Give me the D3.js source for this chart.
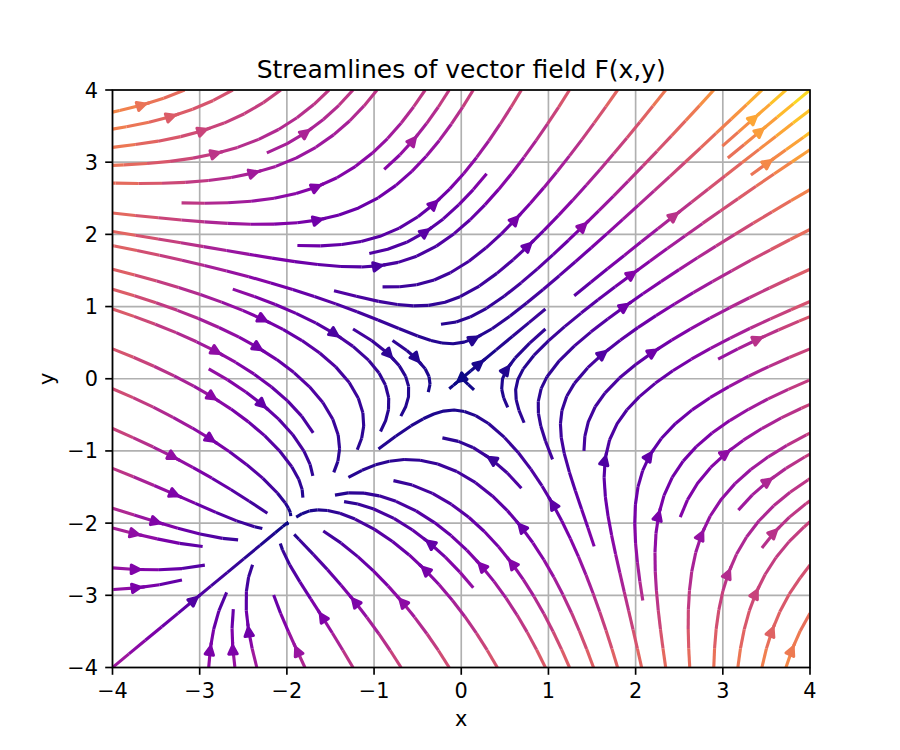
<!DOCTYPE html>
<html>
<head>
<meta charset="utf-8">
<script src="https://cdn.jsdelivr.net/npm/d3@7"></script>
<style>
  body { margin: 0; background: #fff; }
  svg { display: block; }
  text { font-family: "DejaVu Sans", sans-serif; fill: #000; }
</style>
</head>
<body>
<div id="chart"></div>
<script>
// chart values
const titleText = "Streamlines of vector field F(x,y)";
const xDomain = [-4, 4];
const yDomain = [-4, 4];
const xTicks = [-4, -3, -2, -1, 0, 1, 2, 3, 4];
const yTicks = [-4, -3, -2, -1, 0, 1, 2, 3, 4];
const gridCount = 100;        // samples per axis of the field grid
const density = 1;            // streamline density (30 mask cells per unit)
// the vector field F(x,y) = (x^2 + 2y, y^2 + 2x)
const fieldU = (x, y) => x * x + 2 * y;
const fieldV = (x, y) => y * y + 2 * x;

// layout (figure 6x5 in at 150 dpi)
const W = 900, H = 750;
const pt = 150 / 72;
const plotL = 112.5, plotR = 810, plotT = 90, plotB = 667.5;

const x = d3.scaleLinear().domain(xDomain).range([plotL, plotR]);
const y = d3.scaleLinear().domain(yDomain).range([plotB, plotT]);

// ---- sample the field on a regular grid ----
const nx = gridCount, ny = gridCount;
const xs = d3.range(nx).map(i => xDomain[0] + i * (xDomain[1] - xDomain[0]) / (nx - 1));
const ys = d3.range(ny).map(j => yDomain[0] + j * (yDomain[1] - yDomain[0]) / (ny - 1));
const gdx = xs[1] - xs[0], gdy = ys[1] - ys[0];

const uG = new Float64Array(nx * ny), vG = new Float64Array(nx * ny);
const spd = new Float64Array(nx * ny), colorArr = new Float64Array(nx * ny);
for (let j = 0; j < ny; j++) {
  for (let i = 0; i < nx; i++) {
    const u = fieldU(xs[i], ys[j]), v = fieldV(xs[i], ys[j]);
    const k = j * nx + i;
    colorArr[k] = Math.sqrt(u * u + v * v);
    uG[k] = u / gdx;
    vG[k] = v / gdy;
    const ua = uG[k] / (nx - 1), va = vG[k] / (ny - 1);
    spd[k] = Math.sqrt(ua * ua + va * va);
  }
}

function interp(a, xi, yi) {
  const ix = Math.trunc(xi), iy = Math.trunc(yi);
  const xn = ix >= nx - 1 ? nx - 1 : ix + 1;
  const yn = iy >= ny - 1 ? ny - 1 : iy + 1;
  const a00 = a[iy * nx + ix], a01 = a[iy * nx + xn];
  const a10 = a[yn * nx + ix], a11 = a[yn * nx + xn];
  const xt = xi - ix, yt = yi - iy;
  const a0 = a00 * (1 - xt) + a01 * xt;
  const a1 = a10 * (1 - xt) + a11 * xt;
  return a0 * (1 - yt) + a1 * yt;
}

// ---- streamplot (same scheme as matplotlib) ----
const mnx = Math.trunc(30 * density), mny = Math.trunc(30 * density);
const mask = new Uint8Array(mnx * mny);
const xg2m = (mnx - 1) / (nx - 1), yg2m = (mny - 1) / (ny - 1);
const xm2g = 1 / xg2m, ym2g = 1 / yg2m;
let curXY = null, traj = [];

const OUT = { t: "out" }, TERM = { t: "term" }, INVALID = { t: "invalid" };

function pyRound(v) {
  const f = Math.floor(v);
  if (v - f === 0.5) return f % 2 === 0 ? f : f + 1;
  return Math.round(v);
}
const within = (xi, yi) => xi >= 0 && xi <= nx - 1 && yi >= 0 && yi <= ny - 1;
const g2m = (xi, yi) => [pyRound(xi * xg2m), pyRound(yi * yg2m)];

function maskUpdate(xm, ym) {
  if (!curXY || curXY[0] !== xm || curXY[1] !== ym) {
    if (mask[ym * mnx + xm] === 0) {
      traj.push(ym * mnx + xm);
      mask[ym * mnx + xm] = 1;
      curXY = [xm, ym];
    } else {
      throw INVALID;
    }
  }
}
function startTrajectory(xg, yg) {
  const [xm, ym] = g2m(xg, yg);
  traj = [];
  maskUpdate(xm, ym);
}
function resetStart(xg, yg) { curXY = g2m(xg, yg); }
function updateTrajectory(xg, yg) {
  if (!within(xg, yg)) throw INVALID;
  const [xm, ym] = g2m(xg, yg);
  maskUpdate(xm, ym);
}
function undoTrajectory() { traj.forEach(k => { mask[k] = 0; }); }

function forwardTime(xi, yi) {
  if (!within(xi, yi)) throw OUT;
  const s = interp(spd, xi, yi);
  if (s === 0) throw TERM;
  const dt = 1 / s;
  return [interp(uG, xi, yi) * dt, interp(vG, xi, yi) * dt];
}
function backwardTime(xi, yi) {
  const d = forwardTime(xi, yi);
  return [-d[0], -d[1]];
}

function eulerStep(pts, f) {
  const [xi, yi] = pts[pts.length - 1];
  const [cx, cy] = f(xi, yi);
  let dsx, dsy;
  if (cx === 0) dsx = Infinity; else if (cx < 0) dsx = xi / -cx; else dsx = (nx - 1 - xi) / cx;
  if (cy === 0) dsy = Infinity; else if (cy < 0) dsy = yi / -cy; else dsy = (ny - 1 - yi) / cy;
  const ds = Math.min(dsx, dsy);
  pts.push([xi + cx * ds, yi + cy * ds]);
  return ds;
}

const maxLength = 4.0, minLength = 0.1;
function rk12(x0, y0, f) {
  const maxerror = 0.003;
  const maxds = Math.min(1 / mnx, 1 / mny, 0.1);
  let ds = maxds, stotal = 0, xi = x0, yi = y0;
  const pts = [];
  while (true) {
    let k1, k2;
    try {
      if (within(xi, yi)) pts.push([xi, yi]); else throw OUT;
      k1 = f(xi, yi);
      k2 = f(xi + ds * k1[0], yi + ds * k1[1]);
    } catch (e) {
      if (e === OUT) {
        if (pts.length) {
          try { stotal += eulerStep(pts, f); } catch (e2) { /* stop */ }
        }
        break;
      }
      if (e === TERM) break;
      throw e;
    }
    const dx1 = ds * k1[0], dy1 = ds * k1[1];
    const dx2 = ds * 0.5 * (k1[0] + k2[0]), dy2 = ds * 0.5 * (k1[1] + k2[1]);
    const error = Math.hypot((dx2 - dx1) / (nx - 1), (dy2 - dy1) / (ny - 1));
    if (error < maxerror) {
      xi += dx2; yi += dy2;
      try { updateTrajectory(xi, yi); } catch (e) { if (e === INVALID) break; throw e; }
      if (stotal + ds > maxLength) break;
      stotal += ds;
    }
    ds = error === 0 ? maxds : Math.min(maxds, 0.85 * ds * Math.sqrt(maxerror / error));
  }
  return [stotal, pts];
}

function integrate(x0, y0) {
  try { startTrajectory(x0, y0); } catch (e) { if (e === INVALID) return null; throw e; }
  let stotal = 0;
  const [s1, back] = rk12(x0, y0, backwardTime);
  stotal += s1;
  let pts = back.slice().reverse();
  resetStart(x0, y0);
  const [s2, fwd] = rk12(x0, y0, forwardTime);
  stotal += s2;
  pts = pts.concat(fwd.slice(1));
  if (stotal > minLength) return pts;
  undoTrajectory();
  return null;
}

function* startingPoints(shapeY, shapeX) {
  let xfirst = 0, yfirst = 1, xlast = shapeX - 1, ylast = shapeY - 1;
  let px = 0, py = 0, dir = "right";
  for (let i = 0; i < shapeX * shapeY; i++) {
    yield [px, py];
    if (dir === "right") { px += 1; if (px >= xlast) { xlast -= 1; dir = "up"; } }
    else if (dir === "up") { py += 1; if (py >= ylast) { ylast -= 1; dir = "left"; } }
    else if (dir === "left") { px -= 1; if (px <= xfirst) { xfirst += 1; dir = "down"; } }
    else { py -= 1; if (py <= yfirst) { yfirst += 1; dir = "right"; } }
  }
}

const trajectories = [];
for (const [xm, ym] of startingPoints(mny, mnx)) {
  if (mask[ym * mnx + xm] === 0) {
    const t = integrate(xm * xm2g, ym * ym2g);
    if (t) trajectories.push(t);
  }
}

// ---- colour by speed (plasma, 256 levels) ----
const cMin = d3.min(colorArr), cMax = d3.max(colorArr);
const level = v => {
  const t = (v - cMin) / (cMax - cMin);
  return Math.max(0, Math.min(255, Math.floor(t * 256)));
};
const levelColor = k => d3.interpolatePlasma((k + 0.5) / 256);

// ---- draw ----
const svg = d3.select("#chart").append("svg").attr("width", W).attr("height", H);
svg.append("rect").attr("width", W).attr("height", H).attr("fill", "#fff");

svg.append("defs").append("clipPath").attr("id", "plot-clip")
  .append("rect").attr("x", plotL).attr("y", plotT)
  .attr("width", plotR - plotL).attr("height", plotB - plotT);

// grid
const grid = svg.append("g").attr("stroke", "#b0b0b0").attr("stroke-width", 0.8 * pt);
grid.selectAll(".gx").data(xTicks).join("line").attr("class", "gx")
  .attr("x1", d => x(d)).attr("x2", d => x(d)).attr("y1", plotT).attr("y2", plotB);
grid.selectAll(".gy").data(yTicks).join("line").attr("class", "gy")
  .attr("y1", d => y(d)).attr("y2", d => y(d)).attr("x1", plotL).attr("x2", plotR);

const plot = svg.append("g").attr("clip-path", "url(#plot-clip)");
const lineG = plot.append("g").attr("fill", "none")
  .attr("stroke-width", 1.5 * pt).attr("stroke-linecap", "butt").attr("stroke-linejoin", "round");
const arrowG = plot.append("g");

const runs = [];
const arrows = [];
trajectories.forEach(t => {
  const tx = t.map(p => p[0] / (1 / gdx) + xDomain[0]);
  const ty = t.map(p => p[1] / (1 / gdy) + yDomain[0]);
  const cv = t.slice(0, -1).map(p => interp(colorArr, p[0], p[1]));
  // merge consecutive segments of the same colour level
  let run = null;
  for (let i = 0; i < cv.length; i++) {
    const k = level(cv[i]);
    if (!run || run.k !== k) {
      run = { k, pts: [[tx[i], ty[i]]] };
      runs.push(run);
    }
    run.pts.push([tx[i + 1], ty[i + 1]]);
  }
  // arrow half way along
  const s = [];
  let acc = 0;
  for (let i = 1; i < tx.length; i++) {
    acc += Math.hypot(tx[i] - tx[i - 1], ty[i] - ty[i - 1]);
    s.push(acc);
  }
  const n = d3.bisectLeft(s, s[s.length - 1] / 2);
  const tail = [tx[n], ty[n]];
  const head = [(tx[n] + tx[n + 1]) / 2, (ty[n] + ty[n + 1]) / 2];
  arrows.push({ tail, head, k: level(cv[n]) });
});

const line = d3.line().x(d => x(d[0])).y(d => y(d[1]));
lineG.selectAll("path").data(runs).join("path")
  .attr("d", d => line(d.pts))
  .attr("stroke", d => levelColor(d.k));

// '-|>' arrow heads, with the default 2 pt shrink at both ends
const headLen = 0.4 * 10 * pt, headWid = 0.2 * 10 * pt, lw = 1.5 * pt;
const shrink = 2 * pt;
const headDist = Math.hypot(headLen, headWid);
const cosT = headLen / headDist, sinT = headWid / headDist;
function arrowPath(a) {
  let x0 = x(a.tail[0]), y0 = y(a.tail[1]);
  let x1 = x(a.head[0]), y1 = y(a.head[1]);
  const L = Math.hypot(x1 - x0, y1 - y0);
  if (L > 0) {
    const fx = (x1 - x0) / L, fy = (y1 - y0) / L;
    if (L > shrink) {
      x0 += fx * shrink; y0 += fy * shrink;
      if (L - shrink > shrink) { x1 -= fx * shrink; y1 -= fy * shrink; }
    }
  }
  const ddx = x0 - x1, ddy = y0 - y1;
  let dist = Math.hypot(ddx, ddy);
  if (dist === 0) dist = 1;
  const pad = 0.5 * lw / sinT;
  const ux = ddx / dist, uy = ddy / dist;
  const tipX = x1 + pad * ux, tipY = y1 + pad * uy;
  const dx = ux * headDist, dy = uy * headDist;
  const p1 = [tipX + cosT * dx + sinT * dy, tipY - sinT * dx + cosT * dy];
  const p2 = [tipX + cosT * dx - sinT * dy, tipY + sinT * dx + cosT * dy];
  return `M${x0},${y0}L${x1},${y1}` +
    `M${p1[0]},${p1[1]}L${tipX},${tipY}L${p2[0]},${p2[1]}Z`;
}
arrowG.selectAll("path").data(arrows).join("path")
  .attr("d", arrowPath)
  .attr("fill", d => levelColor(d.k))
  .attr("stroke", d => levelColor(d.k))
  .attr("stroke-width", lw)
  .attr("stroke-linejoin", "round")
  .attr("stroke-linecap", "round");

// spines
svg.append("rect").attr("x", plotL).attr("y", plotT)
  .attr("width", plotR - plotL).attr("height", plotB - plotT)
  .attr("fill", "none").attr("stroke", "#000").attr("stroke-width", 0.8 * pt);

// ticks and tick labels
const fmt = d => (d < 0 ? "\u2212" + Math.abs(d) : String(d));
const tickLen = 3.5 * pt, tickPad = 3.5 * pt;
const xt = svg.append("g");
xt.selectAll("line").data(xTicks).join("line")
  .attr("x1", d => x(d)).attr("x2", d => x(d))
  .attr("y1", plotB).attr("y2", plotB + tickLen)
  .attr("stroke", "#000").attr("stroke-width", 0.8 * pt);
xt.selectAll("text").data(xTicks).join("text")
  .attr("x", d => x(d)).attr("y", 698)
  .attr("text-anchor", "middle").attr("font-size", 10 * pt)
  .text(fmt);

const yt = svg.append("g");
yt.selectAll("line").data(yTicks).join("line")
  .attr("y1", d => y(d)).attr("y2", d => y(d))
  .attr("x1", plotL - tickLen).attr("x2", plotL)
  .attr("stroke", "#000").attr("stroke-width", 0.8 * pt);
yt.selectAll("text").data(yTicks).join("text")
  .attr("x", plotL - tickLen - tickPad).attr("y", d => y(d) + 7.5)
  .attr("text-anchor", "end").attr("font-size", 10 * pt)
  .text(fmt);

// axis labels and title
svg.append("text").attr("x", (plotL + plotR) / 2).attr("y", 726)
  .attr("text-anchor", "middle").attr("font-size", 10 * pt).text("x");
svg.append("text").attr("transform", `translate(53.5,${(plotT + plotB) / 2}) rotate(-90)`)
  .attr("text-anchor", "middle").attr("font-size", 10 * pt).text("y");
svg.append("text").attr("x", (plotL + plotR) / 2).attr("y", 77.5)
  .attr("text-anchor", "middle").attr("font-size", 12 * pt).text(titleText);
</script>
</body>
</html>
